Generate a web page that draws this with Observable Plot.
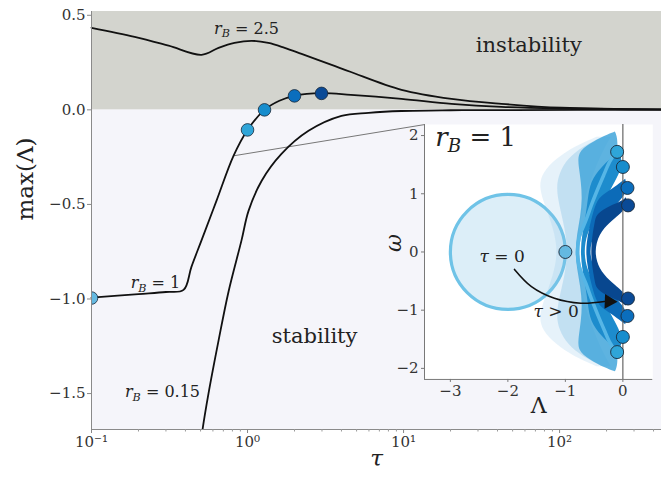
<!DOCTYPE html>
<html><head><meta charset="utf-8">
<script src="https://cdn.jsdelivr.net/npm/d3@7"></script>
<script src="https://cdn.jsdelivr.net/npm/@observablehq/plot@0.6"></script>
<style>
body{margin:0;background:#fff;}
#wrap{position:relative;width:661px;height:479px;}
#wrap svg{display:block;}
</style></head><body><div id="wrap"></div>
<script>
// ---------- main panel data ----------
const xDomain = [0.1, 450];
const yDomain = [-1.69, 0.52];
const xTicks = [0.1, 1, 10, 100];
const xTickLabels = ["10⁻¹", "10⁰", "10¹", "10²"];
const yTicks = [-1.5, -1.0, -0.5, 0.0, 0.5];
const yTickLabels = ["−1.5", "−1.0", "−0.5", "0.0", "0.5"];

const tauR25 = [0.1, 0.189, 0.312, 0.507, 0.652, 0.825, 1.06, 1.36, 1.73, 2.22, 3.46, 4.6, 9.7, 20.3, 42.4, 103, 450];
const lamR25 = [0.434, 0.386, 0.339, 0.291, 0.328, 0.354, 0.365, 0.354, 0.328, 0.296, 0.238, 0.2, 0.106, 0.058, 0.032, 0.011, 0.002];

const tauR1 = [0.1, 0.2, 0.3, 0.389, 0.437, 0.507, 0.633, 0.813, 1.0, 1.285, 1.6, 2.0, 2.98, 4.6, 9.7, 20.3, 42.4, 103, 450];
const lamR1 = [-0.993, -0.974, -0.963, -0.952, -0.83, -0.69, -0.48, -0.243, -0.106, 0.0, 0.048, 0.074, 0.088, 0.079, 0.058, 0.032, 0.016, 0.008, 0.003];

const tauR015 = [0.5, 0.515, 0.562, 0.652, 0.756, 0.915, 1.015, 1.23, 1.65, 2.46, 4.0, 5.97, 9.7, 20, 50, 450];
const lamR015 = [-1.78, -1.69, -1.50, -1.22, -0.96, -0.69, -0.534, -0.376, -0.233, -0.111, -0.032, -0.016, -0.006, -0.002, -0.001, 0];

// highlighted points on r_B = 1
const dotTau = [0.1, 1.0, 1.285, 2.0, 2.98];
const dotLam = [-0.995, -0.106, 0.0, 0.074, 0.087];
const dotColors = ["#64b9e1", "#2fa5d8", "#168dcd", "#0b6ebd", "#0a4a96"];

// zoom connector: from curve point to inset top-left corner
const connTau = [0.813, 13.6];
const connLam = [-0.243, -0.078];
// inset box in main-panel data coordinates (top-left, bottom-right)
const insetTau = [13.6, 395];
const insetLam = [-0.078, -1.426];

const mainLabels = [
  {t: 0.985, v: 0.43, s: "r_B = 2.5", size: 16},
  {t: 0.257, v: -0.915, s: "r_B = 1", size: 16},
  {t: 0.285, v: -1.49, s: "r_B = 0.15", size: 16},
  {t: 63.5, v: 0.344, s: "instability", size: 21},
  {t: 2.69, v: -1.196, s: "stability", size: 21}
];

// ---------- inset data ----------
const lamDomain = [-3.45, 0.52];
const omDomain = [-2.19, 2.19];
const insetXTicks = [-3, -2, -1, 0];
const insetXLabels = ["−3", "−2", "−1", "0"];
const insetYTicks = [-2, -1, 0, 1, 2];
const insetYLabels = ["−2", "−1", "0", "1", "2"];

const circleCenter = [-2, 0];
const circleRadius = 1;

// scattered eigenvalue haze (outer, sparse) and (inner, denser)
const hazeW = [-1.97, -1.8, -1.6, -1.35, -1.1, -0.8, -0.4, 0, 0.4, 0.8, 1.1, 1.35, 1.6, 1.8, 1.97];
const hazeOuterL = [-0.45, -0.85, -1.15, -1.4, -1.45, -1.35, -1.2, -1.12, -1.2, -1.35, -1.45, -1.4, -1.15, -0.85, -0.45];
const hazeInnerL = [-0.35, -0.7, -0.95, -1.1, -1.15, -1.1, -1.0, -0.95, -1.0, -1.1, -1.15, -1.1, -0.95, -0.7, -0.35];
const hazeR = [-0.2, -0.3, -0.4, -0.5, -0.6, -0.68, -0.75, -0.78, -0.75, -0.68, -0.6, -0.5, -0.4, -0.3, -0.2];

// spectral bands for tau = 1, 1.3, 2, 3
const bandW1 = [-2.06, -2.0, -1.85, -1.7, -1.45, -1.2, -0.9, -0.6, -0.3, 0, 0.3, 0.6, 0.9, 1.2, 1.45, 1.7, 1.85, 2.0, 2.06];
const bandL1 = [-0.13, -0.3, -0.58, -0.78, -0.76, -0.72, -0.7, -0.73, -0.79, -0.82, -0.79, -0.73, -0.7, -0.72, -0.76, -0.78, -0.58, -0.3, -0.13];
const bandR1 = [-0.13, -0.1, -0.08, -0.1, -0.25, -0.37, -0.49, -0.6, -0.72, -0.76, -0.72, -0.6, -0.49, -0.37, -0.25, -0.1, -0.08, -0.1, -0.13];

const bandW2 = [-1.72, -1.6, -1.46, -1.2, -0.9, -0.6, -0.3, 0, 0.3, 0.6, 0.9, 1.2, 1.46, 1.6, 1.72];
const bandL2 = [-0.06, -0.2, -0.36, -0.56, -0.6, -0.64, -0.7, -0.73, -0.7, -0.64, -0.6, -0.56, -0.36, -0.2, -0.06];
const bandR2 = [-0.06, -0.02, 0.0, -0.13, -0.3, -0.47, -0.62, -0.67, -0.62, -0.47, -0.3, -0.13, 0.0, -0.02, -0.06];

const bandW3 = [-1.25, -1.1, -1.0, -0.9, -0.6, -0.3, 0, 0.3, 0.6, 0.9, 1.0, 1.1, 1.25];
const bandL3 = [0.05, -0.15, -0.3, -0.44, -0.53, -0.6, -0.64, -0.6, -0.53, -0.44, -0.3, -0.15, 0.05];
const bandR3 = [0.05, 0.08, 0.05, -0.02, -0.29, -0.5, -0.58, -0.5, -0.29, -0.02, 0.05, 0.08, 0.05];

const bandW4 = [-0.93, -0.86, -0.75, -0.63, -0.5, -0.3, 0, 0.3, 0.5, 0.63, 0.75, 0.86, 0.93];
const bandL4 = [0.06, -0.02, -0.3, -0.46, -0.48, -0.52, -0.55, -0.52, -0.48, -0.46, -0.3, -0.02, 0.06];
const bandR4 = [0.06, 0.09, 0.06, -0.06, -0.22, -0.41, -0.49, -0.41, -0.22, -0.06, 0.06, 0.09, 0.06];
const bandColors = ["#4cabdd", "#1d8ccd", "#0c6bb8", "#08478f"];

// light tau=1 spectral line
const lineW1 = [-1.72, -1.53, -1.35, -1.12, -0.85, -0.55, -0.25, 0, 0.25, 0.55, 0.85, 1.12, 1.35, 1.53, 1.72];
const lineL1 = [-0.12, -0.24, -0.32, -0.42, -0.53, -0.64, -0.76, -0.79, -0.76, -0.64, -0.53, -0.42, -0.32, -0.24, -0.12];

// max-eigenvalue dots in the inset
const insetDotL = [-1.0, -0.1, -0.1, 0.0, 0.0, 0.08, 0.08, 0.09, 0.09];
const insetDotW = [0, 1.72, -1.72, 1.46, -1.46, 1.1, -1.1, 0.8, -0.8];
const insetDotColors = ["#64b9e1", "#2fa5d8", "#2fa5d8", "#168dcd", "#168dcd", "#0b6ebd", "#0b6ebd", "#0a4a96", "#0a4a96"];

// arrow tau=0 -> tau>0
const arrowL = [-1.885, -1.59, -1.19, -0.73, -0.32];
const arrowW = [-0.30, -0.595, -0.795, -0.88, -0.85];
const arrowHead = {L: -0.24, W: -0.85};

const insetLabels = [
  {L: -2.56, W: 1.96, s: "r_B = 1", size: 26},
  {L: -2.1, W: -0.08, s: "τ = 0", size: 17},
  {L: -1.16, W: -1.03, s: "τ > 0", size: 17}
];

// ---------- helpers ----------
const FONT = '"DejaVu Serif", "Liberation Serif", serif';
const rows = (xs, ys) => xs.map((x, i) => ({x, y: ys[i]}));
const rows3 = (ws, ls, rs) => ws.map((w, i) => ({w, l: ls[i], r: rs[i]}));
const mapFmt = (ticks, labels) => d => labels[ticks.indexOf(d)];

function mathify(svg) {
  d3.select(svg).selectAll("text").each(function() {
    if (this.querySelector("tspan")) return;
    const s = this.textContent;
    const el = d3.select(this);
    if (s.startsWith("r_B")) {
      const rest = s.slice(3);
      el.text(null);
      el.append("tspan").attr("font-style", "italic").text("r");
      el.append("tspan").attr("font-style", "italic").attr("font-size", "0.7em").attr("dy", "0.33em").text("B");
      el.append("tspan").attr("dy", "-0.23em").text(rest);
    } else if (s.startsWith("τ ")) {
      const rest = s.slice(1);
      el.text(null);
      el.append("tspan").attr("font-style", "italic").text("τ");
      el.append("tspan").text(rest);
    }
  });
}

// ---------- main plot ----------
const minorTicks = d3.scaleLog().domain(xDomain).ticks().filter(d => !xTicks.includes(d));

const main = Plot.plot({
  width: 661, height: 479,
  marginLeft: 91, marginRight: 0, marginTop: 11, marginBottom: 50,
  x: {type: "log", domain: xDomain, axis: null},
  y: {domain: yDomain, axis: null},
  style: {fontFamily: FONT, fontSize: "15px", background: "transparent", color: "#222"},
  marks: [
    Plot.rect([0], {x1: xDomain[0], x2: xDomain[1], y1: yDomain[0], y2: 0, fill: "#f5f5fa"}),
    Plot.rect([0], {x1: xDomain[0], x2: xDomain[1], y1: 0, y2: yDomain[1], fill: "#d3d4ce"}),
    Plot.line(rows(connTau, connLam), {x: "x", y: "y", stroke: "#777", strokeWidth: 1}),
    Plot.line(rows(tauR25, lamR25), {x: "x", y: "y", stroke: "#111", strokeWidth: 1.8, curve: "catmull-rom"}),
    Plot.line(rows(tauR1, lamR1), {x: "x", y: "y", stroke: "#111", strokeWidth: 1.8, curve: "catmull-rom"}),
    Plot.line(rows(tauR015, lamR015), {x: "x", y: "y", stroke: "#111", strokeWidth: 1.8, curve: "catmull-rom", clip: true}),
    Plot.dot(dotTau.map((t, i) => ({t, v: dotLam[i], c: dotColors[i]})), {x: "t", y: "v", fill: "c", r: 6.3, stroke: "#1b2a3a", strokeWidth: 0.8, clip: true}),
    Plot.text(mainLabels, {x: "t", y: "v", text: "s", fontSize: "size", fill: "#222"}),
    Plot.ruleX([xDomain[0]], {stroke: "#8a8a8a", strokeWidth: 1}),
    Plot.ruleY([yDomain[0]], {stroke: "#8a8a8a", strokeWidth: 1}),
    Plot.axisX(xTicks, {tickFormat: mapFmt(xTicks, xTickLabels), tickSize: 4, tickPadding: 3, stroke: "#888", fill: "#333", fontSize: 15, label: null}),
    Plot.axisX(minorTicks, {tickFormat: () => "", tickSize: 2.5, stroke: "#999", label: null}),
    Plot.axisY(yTicks, {tickFormat: mapFmt(yTicks, yTickLabels), tickSize: 4, tickPadding: 2, stroke: "#888", fill: "#333", fontSize: 15, label: null}),
    Plot.text(["max(Λ)"], {text: d => d, frameAnchor: "left", dx: -66, rotate: -90, fontSize: 23, fill: "#222"}),
    Plot.text(["τ"], {text: d => d, frameAnchor: "bottom", dy: 36, fontSize: 23, fontStyle: "italic", fill: "#222"})
  ]
});
mathify(main);
const wrap = document.getElementById("wrap");
wrap.appendChild(main);

// ---------- inset placement from main scales ----------
const sx = main.scale("x"), sy = main.scale("y");
const iLeft = sx.apply(insetTau[0]), iRight = sx.apply(insetTau[1]);
const iTop = sy.apply(insetLam[0]), iBottom = sy.apply(insetLam[1]);
const iW = iRight - iLeft, iH = iBottom - iTop;
const mL = 50, mB = 46;
const rPx = iW / (lamDomain[1] - lamDomain[0]) * circleRadius;

const inset = Plot.plot({
  width: iW + mL, height: iH + mB,
  marginLeft: mL, marginRight: 0, marginTop: 0, marginBottom: mB,
  x: {domain: lamDomain, axis: null},
  y: {domain: omDomain, axis: null},
  style: {fontFamily: FONT, fontSize: "15px", background: "transparent", color: "#222", overflow: "visible"},
  marks: [
    Plot.frame({fill: "white", stroke: "none"}),
    Plot.dot([circleCenter], {x: d => d[0], y: d => d[1], r: rPx, fill: "#dceef8", stroke: "#6fc3e7", strokeWidth: 3.2}),
    Plot.areaX(rows3(hazeW, hazeOuterL, hazeR), {y: "w", x1: "l", x2: "r", fill: "#8fc6e6", fillOpacity: 0.22, curve: "basis"}),
    Plot.areaX(rows3(hazeW, hazeInnerL, hazeR), {y: "w", x1: "l", x2: "r", fill: "#6fb6e0", fillOpacity: 0.3, curve: "basis"}),
    Plot.areaX(rows3(bandW1, bandL1, bandR1), {y: "w", x1: "l", x2: "r", fill: bandColors[0], fillOpacity: 0.9, curve: "basis"}),
    Plot.areaX(rows3(bandW2, bandL2, bandR2), {y: "w", x1: "l", x2: "r", fill: bandColors[1], curve: "basis"}),
    Plot.areaX(rows3(bandW3, bandL3, bandR3), {y: "w", x1: "l", x2: "r", fill: bandColors[2], curve: "basis"}),
    Plot.areaX(rows3(bandW4, bandL4, bandR4), {y: "w", x1: "l", x2: "r", fill: bandColors[3], curve: "basis"}),
    Plot.line(rows(lineL1, lineW1), {x: "x", y: "y", stroke: "#56b6e6", strokeWidth: 3.5, curve: "catmull-rom"}),
    Plot.ruleX([0], {stroke: "#666", strokeWidth: 1.2}),
    Plot.line(rows(arrowL, arrowW), {x: "x", y: "y", stroke: "#111", strokeWidth: 1.6, curve: "catmull-rom"}),
    Plot.dot([arrowHead], {x: "L", y: "W", symbol: "triangle", rotate: 92, r: 5.5, fill: "#111", stroke: "none"}),
    Plot.text(insetLabels, {x: "L", y: "W", text: "s", fontSize: "size", fill: "#222"}),
    Plot.dot(insetDotL.map((L, i) => ({L, W: insetDotW[i], c: insetDotColors[i]})), {x: "L", y: "W", fill: "c", r: 6.5, stroke: "#1b2a3a", strokeWidth: 0.9}),
    Plot.ruleX([lamDomain[0]], {stroke: "#777", strokeWidth: 1}),
    Plot.ruleY([omDomain[0]], {stroke: "#777", strokeWidth: 1}),
    Plot.axisX(insetXTicks, {tickFormat: mapFmt(insetXTicks, insetXLabels), tickSize: 3, tickPadding: 3, stroke: "#777", fill: "#333", fontSize: 15, label: null}),
    Plot.axisY(insetYTicks, {tickFormat: mapFmt(insetYTicks, insetYLabels), tickSize: 3, tickPadding: 3, stroke: "#777", fill: "#333", fontSize: 15, label: null}),
    Plot.text(["Λ"], {text: d => d, frameAnchor: "bottom", dy: 34, fontSize: 22, fill: "#222"}),
    Plot.text(["ω"], {text: d => d, frameAnchor: "left", dx: -31, rotate: -90, fontSize: 22, fontStyle: "italic", fill: "#222"})
  ]
});
mathify(inset);
inset.style.position = "absolute";
inset.style.left = (iLeft - mL) + "px";
inset.style.top = iTop + "px";
wrap.appendChild(inset);
</script>
</body></html>
